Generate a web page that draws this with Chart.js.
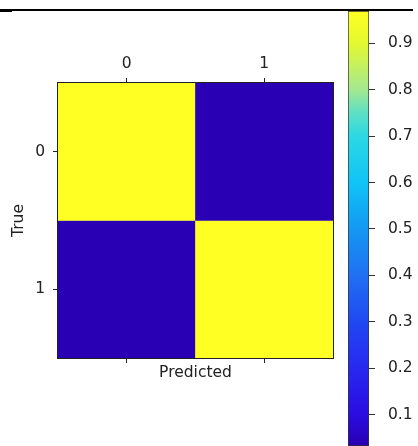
<!DOCTYPE html>
<html>
<head>
<meta charset="utf-8">
<script src="https://cdn.jsdelivr.net/npm/chart.js@4/dist/chart.umd.min.js"></script>
<style>
  html, body { margin: 0; padding: 0; background: #fff; overflow: hidden; }
  #wrap { position: relative; width: 418px; height: 446px; }
  #matrix { position: absolute; left: 0; top: 0; }
  #cbar { position: absolute; left: 340px; top: 0; }
  .rule { position: absolute; background: #000; }
</style>
</head>
<body>
<div id="wrap">
  <canvas id="matrix" width="340" height="446"></canvas>
  <canvas id="cbar" width="78" height="446"></canvas>
  <div class="rule" style="left:0;top:9px;width:413px;height:2px"></div>
  <div class="rule" style="left:0;top:11px;width:12px;height:1px"></div>
</div>
<script>
// Confusion matrix data
const predictedLabels = ['0', '1'];
const trueLabels = ['0', '1'];
// rows = true class, columns = predicted class (normalised)
const cmValues = [
    [0.969, 0.031],
    [0.031, 0.969]
];
// visible range of the colour bar and its ticks
const colorbarRange = [0.033, 0.969];
const colorbarTicks = [0.1, 0.2, 0.3, 0.4, 0.5, 0.6, 0.7, 0.8, 0.9];

// colour map (value -> colour)
const cmapStops = [
    [0.03, '#2a00b4'],
    [0.10, '#2a0ce0'],
    [0.20, '#2828f0'],
    [0.30, '#2048f2'],
    [0.40, '#2070f2'],
    [0.50, '#1498f2'],
    [0.60, '#10c4f6'],
    [0.70, '#2cd8e4'],
    [0.75, '#5ee0c4'],
    [0.80, '#a4e890'],
    [0.90, '#e4f830'],
    [0.969, '#ffff24']
];

function hexToRgb(h) {
    const n = parseInt(h.slice(1), 16);
    return [(n >> 16) & 255, (n >> 8) & 255, n & 255];
}

function colormap(v) {
    if (v <= cmapStops[0][0]) return cmapStops[0][1];
    for (let i = 1; i < cmapStops.length; i++) {
        if (v <= cmapStops[i][0]) {
            const [v0, c0] = cmapStops[i - 1];
            const [v1, c1] = cmapStops[i];
            const t = (v - v0) / (v1 - v0);
            const a = hexToRgb(c0), b = hexToRgb(c1);
            const rgb = a.map((x, k) => Math.round(x + (b[k] - x) * t));
            return `rgb(${rgb.join(',')})`;
        }
    }
    return cmapStops[cmapStops.length - 1][1];
}

const textColor = '#222';
const font = { family: "'DejaVu Sans', sans-serif", size: 15.5 };

// frame around the plot area
const framePlugin = {
    id: 'frame',
    afterDatasetsDraw(chart) {
        const { ctx, chartArea: a } = chart;
        ctx.save();
        ctx.strokeStyle = '#222';
        ctx.lineWidth = 1;
        ctx.strokeRect(Math.round(a.left) - 0.5, Math.round(a.top) - 0.5,
            Math.round(a.right - a.left) + 1, Math.round(a.bottom - a.top) + 1);
        ctx.restore();
    }
};

const tickGrid = {
    offset: false,
    drawOnChartArea: false,
    drawTicks: true,
    tickLength: 5,
    tickColor: '#222',
    tickWidth: 1
};

// one stacked dataset per true row, each cell has unit height
const datasets = trueLabels.map((t, r) => ({
    label: 'True ' + t,
    data: predictedLabels.map(() => 1),
    backgroundColor: predictedLabels.map((p, c) => colormap(cmValues[r][c])),
    borderWidth: 0,
    barPercentage: 1,
    categoryPercentage: 1
}));

new Chart(document.getElementById('matrix'), {
    type: 'bar',
    data: { labels: predictedLabels, datasets },
    options: {
        responsive: false,
        animation: false,
        layout: { padding: { left: 0, right: 7, top: 0, bottom: 0 } },
        plugins: { legend: { display: false }, tooltip: { enabled: false } },
        scales: {
            x: {
                type: 'category',
                position: 'top',
                stacked: true,
                offset: true,
                grid: tickGrid,
                border: { display: false },
                ticks: { color: textColor, font, padding: 5, maxRotation: 0 },
                afterFit: s => { s.height = 83; }
            },
            x2: {
                type: 'category',
                position: 'bottom',
                labels: predictedLabels,
                offset: true,
                grid: tickGrid,
                border: { display: false },
                ticks: { callback: () => '', font },
                title: {
                    display: true, text: 'Predicted', color: textColor, font,
                    padding: { top: 0, bottom: 64 }
                },
                afterFit: s => { s.height = 88; }
            },
            y: {
                type: 'linear',
                stacked: true,
                reverse: true,
                min: 0,
                max: trueLabels.length,
                grid: tickGrid,
                border: { display: false },
                afterBuildTicks: s => { s.ticks = trueLabels.map((t, i) => ({ value: i + 0.5 })); },
                ticks: {
                    color: textColor, font, padding: 8,
                    callback: v => trueLabels[Math.floor(v)]
                },
                title: {
                    display: true, text: 'True', color: textColor, font,
                    padding: { top: 10, bottom: 0 }
                },
                afterFit: s => { s.width = 58; s.paddingTop = 0; s.paddingBottom = 0; }
            }
        }
    },
    plugins: [framePlugin]
});

// colour bar: one floating bar spanning the visible range, filled with the colour map
function cbarGradient(context) {
    const { chart } = context;
    const a = chart.chartArea;
    if (!a) return cmapStops[0][1];
    const g = chart.ctx.createLinearGradient(0, a.bottom, 0, a.top);
    const [lo, hi] = colorbarRange;
    cmapStops.forEach(([v, c]) => {
        const t = Math.min(1, Math.max(0, (v - lo) / (hi - lo)));
        g.addColorStop(t, c);
    });
    return g;
}

new Chart(document.getElementById('cbar'), {
    type: 'bar',
    data: {
        labels: ['cb'],
        datasets: [{
            data: [colorbarRange],
            backgroundColor: cbarGradient,
            borderColor: '#333',
            borderWidth: 1,
            borderSkipped: false,
            barPercentage: 1,
            categoryPercentage: 1
        }]
    },
    options: {
        responsive: false,
        animation: false,
        layout: { padding: { left: 8, right: 0, top: 11, bottom: 0 } },
        plugins: { legend: { display: false }, tooltip: { enabled: false } },
        scales: {
            x: { display: false, offset: true },
            y: {
                position: 'right',
                min: colorbarRange[0],
                max: colorbarRange[1],
                grid: { drawOnChartArea: false, drawTicks: true, tickLength: 6, tickColor: '#333' },
                border: { display: false },
                afterBuildTicks: s => { s.ticks = colorbarTicks.map(v => ({ value: v })); },
                ticks: {
                    color: textColor,
                    font: { family: "'DejaVu Sans', sans-serif", size: 15.5 },
                    padding: 13,
                    callback: v => v.toFixed(1)
                },
                afterFit: s => { s.width = 49; s.paddingTop = 0; s.paddingBottom = 0; }
            }
        }
    }
});
</script>
</body>
</html>
